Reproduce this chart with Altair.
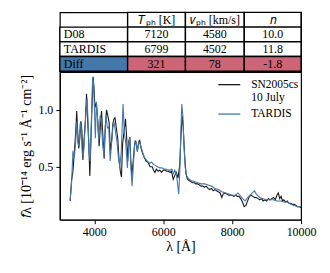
import altair as alt
import pandas as pd

# ---------------- data ----------------
obs_wl = [3300,3340,3380,3420,3460,3490,3520,3550,3580,3610,3640,3670,3700,3740,3775,3800,3840,3870,3900,3935,
          3965,3990,4020,4060,4100,4140,4180,4210,4240,4285,4320,4355,4390,4430,4465,4500,4540,4570,4600,4640,
          4680,4720,4760,4790,4820,4860,4905,4940,4970,5000,5030,5060,5090,5130,5170,5200,5250,5290,5320,5360,
          5400,5450,5500,5560,5620,5680,5720,5760,5800,5850,5900,5950,6000,6050,6100,6150,6200,6240,6290,6330,
          6380,6430,6480,6520,6550,6580,6620,6660,6700,6750,6800,6850,6900,6950,7000,7050,7100,7150,7200,7250,
          7300,7350,7400,7450,7500,7550,7600,7650,7700,7740,7800,7850,7900,7950,8000,8050,8100,8150,8200,8250,
          8300,8350,8400,8450,8500,8550,8600,8650,8700,8750,8800,8850,8900,8950,9000,9050,9100,9150,9200,9250,
          9300,9340,9380,9420,9460,9500,9550,9600,9650,9700,9750,9800,9850,9900,9950,10000]
obs_flux = [0.20,0.38,0.46,0.62,0.80,0.99,0.80,0.66,0.75,0.90,0.82,0.56,0.72,0.90,1.14,0.95,0.70,0.42,0.70,1.05,
            1.29,1.20,1.02,1.06,0.90,0.68,0.88,0.99,0.82,0.57,0.85,1.00,0.95,0.89,0.64,0.72,0.88,0.92,0.93,0.84,
            0.75,0.55,0.45,0.41,0.70,0.80,0.92,0.75,0.55,0.72,0.76,0.55,0.42,0.55,0.70,0.73,0.64,0.72,0.73,0.66,
            0.62,0.58,0.55,0.54,0.50,0.50,0.47,0.45,0.48,0.46,0.47,0.45,0.47,0.47,0.46,0.46,0.45,0.46,0.39,0.42,
            0.45,0.40,0.52,0.80,0.95,0.85,0.60,0.44,0.39,0.38,0.37,0.36,0.36,0.35,0.35,0.34,0.33,0.33,0.32,0.33,
            0.31,0.30,0.31,0.29,0.30,0.29,0.28,0.27,0.23,0.26,0.27,0.26,0.25,0.25,0.25,0.24,0.25,0.24,0.24,0.22,
            0.19,0.15,0.16,0.20,0.24,0.25,0.24,0.23,0.23,0.22,0.21,0.22,0.20,0.21,0.20,0.22,0.21,0.22,0.23,0.21,
            0.25,0.27,0.22,0.24,0.20,0.21,0.19,0.20,0.18,0.18,0.17,0.17,0.16,0.15,0.15,0.14]

mod_wl = [3300,3340,3380,3420,3460,3495,3525,3555,3590,3620,3650,3685,3720,3760,3790,3820,3850,3880,3915,3950,
          3975,4000,4030,4060,4090,4130,4170,4200,4240,4280,4310,4340,4380,4420,4460,4500,4540,4580,4620,4660,
          4700,4740,4780,4835,4870,4910,4960,5000,5030,5060,5096,5140,5180,5220,5250,5290,5330,5380,5430,5480,
          5540,5600,5660,5720,5780,5840,5900,5960,6020,6080,6140,6200,6250,6300,6335,6380,6420,6449,6480,6510,
          6540,6570,6600,6640,6680,6720,6800,6900,7000,7100,7200,7300,7400,7500,7600,7700,7800,7900,8000,8100,
          8168,8230,8300,8380,8450,8550,8650,8700,8800,8900,9000,9100,9200,9300,9400,9500,9600,9700,9800,9900,10000]
mod_flux = [0.21,0.35,0.64,0.58,0.72,0.90,0.70,0.68,0.88,0.85,0.62,0.60,0.78,1.00,1.10,0.90,0.62,0.55,0.90,1.28,
            1.25,1.05,0.75,1.07,0.95,0.72,0.95,0.92,0.70,0.60,0.80,0.95,0.84,0.85,0.55,0.70,0.85,0.88,0.80,0.72,
            0.58,0.50,0.62,1.05,0.80,0.72,0.49,0.70,0.76,0.50,0.33,0.55,0.72,0.70,0.63,0.72,0.70,0.65,0.60,0.57,
            0.55,0.53,0.54,0.52,0.51,0.50,0.49,0.49,0.48,0.48,0.47,0.47,0.48,0.44,0.47,0.44,0.34,0.26,0.45,0.80,
            1.05,0.95,0.70,0.49,0.42,0.40,0.38,0.37,0.36,0.35,0.35,0.34,0.33,0.31,0.30,0.28,0.27,0.26,0.25,0.25,
            0.27,0.25,0.22,0.20,0.23,0.26,0.29,0.26,0.23,0.22,0.21,0.21,0.21,0.20,0.20,0.19,0.19,0.17,0.16,0.15,0.15]

series_names = ["SN2005cs", "TARDIS"]

row_labels = ["D08", "TARDIS", "Diff"]
col_headers = ["𝑇ₚₕ [K]", "𝑣ₚₕ [km/s]", "𝑛"]
t_ph = [7120, 6799, 321]
v_ph = [4580, 4502, 78]
n_par = [10.0, 11.8, -1.8]

# ---------------- styling / layout ----------------
FONT = "Liberation Serif"
BLUE = "#4477AA"
RED = "#CC6677"
W = 242
TAB_H = 59
GAP = 1
col_edges = [0, 68, 126, 185, 242]   # table column edges in panel pixels
row_order = ["hdr"] + row_labels

cells = []
for j, h in enumerate(col_headers):
    cells.append(dict(row="hdr", x0=col_edges[j + 1], x1=col_edges[j + 2], text=h, fill="white", kind="c"))
for i, r in enumerate(row_labels):
    is_diff = r == "Diff"
    cells.append(dict(row=r, x0=col_edges[0], x1=col_edges[1], text=r,
                      fill=BLUE if is_diff else "white", kind="l"))
    vals = [str(t_ph[i]), str(v_ph[i]), f"{n_par[i]:.1f}"]
    for j, v in enumerate(vals):
        cells.append(dict(row=r, x0=col_edges[j + 1], x1=col_edges[j + 2], text=v,
                          fill=RED if is_diff else "white", kind="c"))
tab = pd.DataFrame(cells)
tab["xm"] = (tab.x0 + tab.x1) / 2

xs = alt.Scale(domain=[0, W], range=[0, W])
ys = alt.Scale(domain=row_order, paddingInner=0, paddingOuter=0)

base_t = alt.Chart(tab)
rects = base_t.mark_rect(stroke="black", strokeWidth=1.4).encode(
    x=alt.X("x0:Q", scale=xs, axis=None),
    x2="x1:Q",
    y=alt.Y("row:N", scale=ys, axis=None),
    fill=alt.Fill("fill:N", scale=None),
)
txt_c = base_t.transform_filter("datum.kind == 'c'").mark_text(
    font=FONT, fontSize=12, color="black", baseline="middle").encode(
    x=alt.X("xm:Q", scale=xs), y=alt.Y("row:N", scale=ys), text="text:N")
txt_l = base_t.transform_filter("datum.kind == 'l'").mark_text(
    font=FONT, fontSize=12, color="black", align="left", dx=4, baseline="middle").encode(
    x=alt.X("x0:Q", scale=xs), y=alt.Y("row:N", scale=ys), text="text:N")
table = alt.layer(rects, txt_c, txt_l).properties(width=W, height=TAB_H)

spec = pd.concat([
    pd.DataFrame({"wl": obs_wl, "flux": obs_flux, "series": series_names[0]}),
    pd.DataFrame({"wl": mod_wl, "flux": mod_flux, "series": series_names[1]}),
])

lines = alt.Chart(spec).mark_line(strokeWidth=1.1, clip=True).encode(
    x=alt.X("wl:Q", scale=alt.Scale(domain=[3000, 10000], nice=False, zero=False),
            axis=alt.Axis(values=[4000, 6000, 8000, 10000], format="d", title="λ [Å]",
                          labelFlush=False, titlePadding=2)),
    y=alt.Y("flux:Q", scale=alt.Scale(domain=[0.035, 1.33], nice=False, zero=False),
            axis=alt.Axis(values=[0.5, 1.0], format=".1f",
                          title="𝑓λ [10⁻¹⁴ erg s⁻¹ Å⁻¹ cm⁻²]")),
    color=alt.Color("series:N", scale=alt.Scale(domain=series_names, range=["#1a1a1a", BLUE]),
                    legend=alt.Legend(title=None, orient="none", legendX=163.5, legendY=TAB_H + GAP + 6,
                                      symbolType="M-2,0H2", symbolSize=121, symbolStrokeWidth=1.3,
                                      symbolFillColor="transparent",
                                      labelFont=FONT, labelFontSize=11.5, labelColor="black",
                                      labelOffset=15.5, rowPadding=3.5, padding=0,
                                      labelExpr="datum.label == 'SN2005cs' ? ['SN2005cs', '10 July'] : datum.label")),
    order="series:N",
).properties(width=W, height=148)

chart = alt.vconcat(table, lines, spacing=GAP, bounds="flush").properties(
    padding={"left": 11, "top": 2, "right": 5, "bottom": 5}
).configure_view(stroke="black", strokeWidth=1.2).configure_axis(
    labelFont=FONT, titleFont=FONT, labelFontSize=12, titleFontSize=14,
    labelColor="black", titleColor="black", domainColor="black", tickColor="black",
    grid=False, tickSize=4, labelPadding=3, titleFontWeight="normal",
)

chart.save("out.html", embed_options={"renderer": "svg", "actions": False})
